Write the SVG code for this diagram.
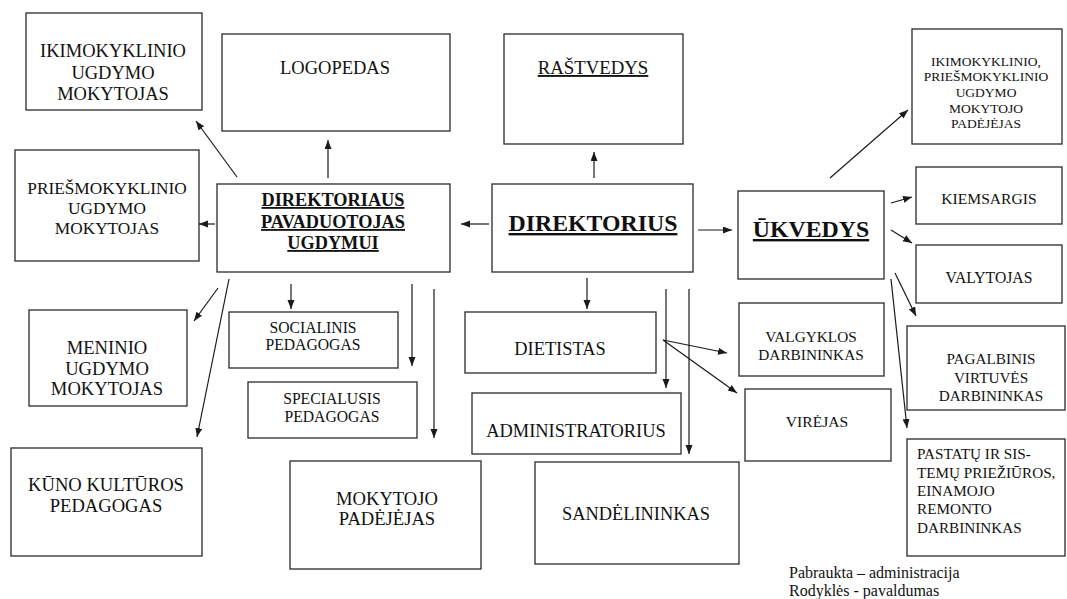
<svg xmlns="http://www.w3.org/2000/svg" width="1067" height="599" viewBox="0 0 1067 599">
<style>
.box{fill:#fff;stroke:#2a2a2a;stroke-width:1.3}
.t{font-family:'Liberation Serif','Times New Roman',Times,serif;fill:#111;text-anchor:middle}
.l{text-anchor:start}
.b{font-weight:bold;text-decoration:underline}
.u{text-decoration:underline}
.c line{stroke:#1a1a1a;stroke-width:1.2;marker-end:url(#ah)}
</style>
<defs>
<marker id="ah" markerUnits="userSpaceOnUse" markerWidth="10" markerHeight="8" refX="9" refY="3.5" orient="auto">
<path d="M0,0 L9,3.5 L0,7 z" fill="#1a1a1a"/>
</marker>
</defs>
<rect width="1067" height="599" fill="#fff"/>

<g id="ikimokyklinio">
<rect class="box" x="26" y="13" width="176" height="97"/>
<text class="t" font-size="18.5" x="113"><tspan x="113" y="57">IKIMOKYKLINIO</tspan><tspan x="113" y="79">UGDYMO</tspan><tspan x="113" y="100">MOKYTOJAS</tspan></text>
</g>
<g id="logopedas">
<rect class="box" x="222" y="34" width="228" height="97"/>
<text class="t" font-size="18.5" x="335" y="74">LOGOPEDAS</text>
</g>
<g id="rastvedys">
<rect class="box" x="504" y="34" width="179" height="110"/>
<text class="t u" font-size="18.8" x="593" y="74">RAŠTVEDYS</text>
</g>
<g id="ikim-padejejas">
<rect class="box" x="912" y="29" width="150" height="115"/>
<text class="t" font-size="13.5"><tspan x="986" y="66">IKIMOKYKLINIO,</tspan><tspan x="986" y="81">PRIEŠMOKYKLINIO</tspan><tspan x="986" y="97">UGDYMO</tspan><tspan x="986" y="113">MOKYTOJO</tspan><tspan x="986" y="128">PADĖJĖJAS</tspan></text>
</g>
<g id="priesmokyklinio">
<rect class="box" x="15" y="150" width="184" height="111"/>
<text class="t" font-size="17.3"><tspan x="107" y="194">PRIEŠMOKYKLINIO</tspan><tspan x="107" y="214">UGDYMO</tspan><tspan x="107" y="234">MOKYTOJAS</tspan></text>
</g>
<g id="pavaduotojas">
<rect class="box" x="217" y="184" width="233" height="88"/>
<text class="t b" font-size="18.3"><tspan x="333" y="206">DIREKTORIAUS</tspan><tspan x="333" y="228">PAVADUOTOJAS</tspan><tspan x="333" y="249">UGDYMUI</tspan></text>
</g>
<g id="direktorius">
<rect class="box" x="492" y="184" width="201" height="88"/>
<text class="t b" font-size="23.8" x="593" y="231">DIREKTORIUS</text>
</g>
<g id="ukvedys">
<rect class="box" x="738" y="191" width="146" height="88"/>
<text class="t b" font-size="23.8" x="811" y="237">ŪKVEDYS</text>
</g>
<g id="kiemsargis">
<rect class="box" x="916" y="167" width="146" height="57"/>
<text class="t" font-size="15.6" x="989" y="204">KIEMSARGIS</text>
</g>
<g id="valytojas">
<rect class="box" x="916" y="245" width="146" height="58"/>
<text class="t" font-size="15.7" x="989" y="283">VALYTOJAS</text>
</g>
<g id="meninio">
<rect class="box" x="29" y="310" width="158" height="96"/>
<text class="t" font-size="18.6"><tspan x="107" y="354">MENINIO</tspan><tspan x="107" y="375">UGDYMO</tspan><tspan x="107" y="395">MOKYTOJAS</tspan></text>
</g>
<g id="socialinis">
<rect class="box" x="229" y="312" width="169" height="56"/>
<text class="t" font-size="15.7"><tspan x="313" y="333">SOCIALINIS</tspan><tspan x="313" y="350">PEDAGOGAS</tspan></text>
</g>
<g id="specialusis">
<rect class="box" x="248" y="382" width="169" height="56"/>
<text class="t" font-size="15.7"><tspan x="332" y="404">SPECIALUSIS</tspan><tspan x="332" y="422">PEDAGOGAS</tspan></text>
</g>
<g id="dietistas">
<rect class="box" x="465" y="312" width="191" height="61"/>
<text class="t" font-size="18.4" x="560" y="355">DIETISTAS</text>
</g>
<g id="valgyklos">
<rect class="box" x="739" y="303" width="145" height="73"/>
<text class="t" font-size="15.3"><tspan x="811" y="342">VALGYKLOS</tspan><tspan x="811" y="360">DARBININKAS</tspan></text>
</g>
<g id="pagalbinis">
<rect class="box" x="907" y="326" width="158" height="84"/>
<text class="t" font-size="15.2"><tspan x="991" y="364">PAGALBINIS</tspan><tspan x="991" y="383">VIRTUVĖS</tspan><tspan x="991" y="401">DARBININKAS</tspan></text>
</g>
<g id="administratorius">
<rect class="box" x="472" y="393" width="209" height="61"/>
<text class="t" font-size="18.4" x="576" y="437">ADMINISTRATORIUS</text>
</g>
<g id="virejas">
<rect class="box" x="745" y="389" width="146" height="72"/>
<text class="t" font-size="15.6" x="817" y="427">VIRĖJAS</text>
</g>
<g id="kuno">
<rect class="box" x="11" y="448" width="191" height="108"/>
<text class="t" font-size="18.6"><tspan x="106" y="491">KŪNO KULTŪROS</tspan><tspan x="106" y="512">PEDAGOGAS</tspan></text>
</g>
<g id="mokytojo-padejejas">
<rect class="box" x="290" y="461" width="191" height="108"/>
<text class="t" font-size="18.6"><tspan x="387" y="505">MOKYTOJO</tspan><tspan x="387" y="525">PADĖJĖJAS</tspan></text>
</g>
<g id="sandelininkas">
<rect class="box" x="535" y="462" width="204" height="102"/>
<text class="t" font-size="18.4" x="636" y="520">SANDĖLININKAS</text>
</g>
<g id="pastatu">
<rect class="box" x="907" y="439" width="158" height="117"/>
<text class="t l" font-size="15.2"><tspan x="917" y="459">PASTATŲ IR SIS-</tspan><tspan x="917" y="478">TEMŲ PRIEŽIŪROS,</tspan><tspan x="917" y="496">EINAMOJO</tspan><tspan x="917" y="514">REMONTO</tspan><tspan x="917" y="533">DARBININKAS</tspan></text>
</g>

<g id="legend">
<text class="t l" font-size="16" x="789" y="578">Pabraukta – administracija</text>
<text class="t l" font-size="16" x="789" y="596">Rodyklės - pavaldumas</text>
</g>

<g id="connectors" class="c">
<line x1="237" y1="177" x2="196" y2="121"/>
<line x1="328" y1="178" x2="328" y2="140"/>
<line x1="215" y1="224" x2="199" y2="224"/>
<line x1="489" y1="224" x2="461" y2="224"/>
<line x1="594" y1="178" x2="594" y2="152"/>
<line x1="698" y1="230" x2="732" y2="230"/>
<line x1="218" y1="288" x2="194" y2="321"/>
<line x1="229" y1="279" x2="197" y2="437"/>
<line x1="291" y1="284" x2="291" y2="309"/>
<line x1="412" y1="284" x2="412" y2="366"/>
<line x1="434" y1="289" x2="434" y2="438"/>
<line x1="587" y1="278" x2="587" y2="309"/>
<line x1="666" y1="289" x2="666" y2="388"/>
<line x1="689" y1="289" x2="689" y2="454"/>
<line x1="663" y1="340" x2="727" y2="353"/>
<line x1="663" y1="340" x2="737" y2="393"/>
<line x1="830" y1="178" x2="908" y2="110"/>
<line x1="891" y1="203" x2="912" y2="197"/>
<line x1="891" y1="230" x2="912" y2="243"/>
<line x1="895" y1="273" x2="916" y2="316"/>
<line x1="891" y1="279" x2="907" y2="428"/>
</g>
</svg>
